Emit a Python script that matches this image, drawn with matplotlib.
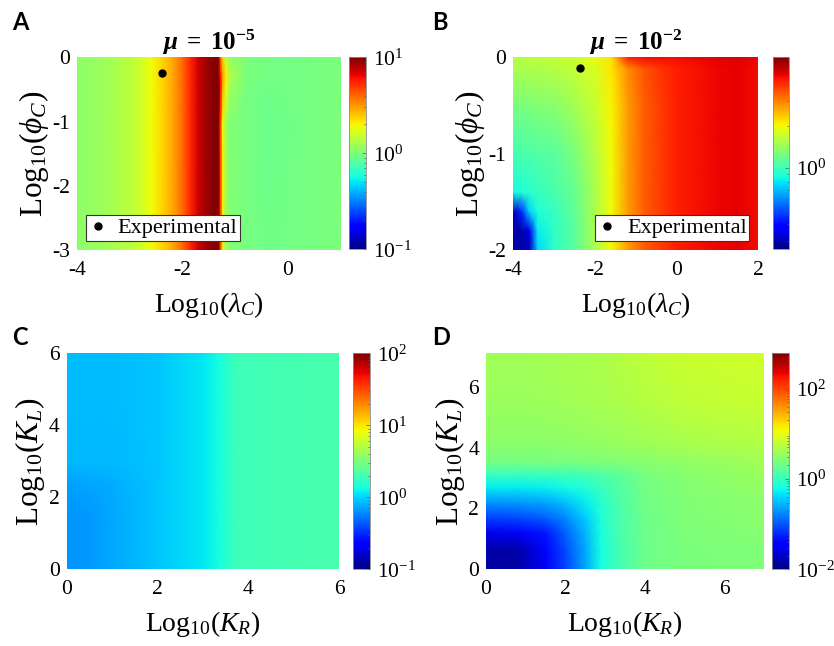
import numpy as np
import matplotlib
matplotlib.use("Agg")
import matplotlib.pyplot as plt
from matplotlib.colors import LogNorm
from matplotlib.ticker import LogLocator, FixedLocator, NullFormatter

plt.rcParams.update({
    "font.family": ["Liberation Serif", "DejaVu Serif"],
    "mathtext.fontset": "custom",
    "mathtext.rm": "Liberation Serif",
    "mathtext.it": "Liberation Serif:italic",
    "mathtext.bf": "Liberation Serif:bold",
    "mathtext.bfit": "Liberation Serif:italic:bold",
    "axes.unicode_minus": False,
})

# ---------------- Panel A: mu = 1e-5, log10(lambda_C) vs log10(phi_C) ----------------
a_lam = [-4.0, -3.5, -3.0, -2.8, -2.6, -2.4, -2.2, -2.0, -1.85, -1.7, -1.55,
         -1.42, -1.32, -1.28, -1.24, -1.18, -1.1, -0.8, -0.4, 0.0, 0.5, 1.0]
a_phi = [-3.0, -1.0, -0.5, -0.25, 0.0]
a_vals = [  # log10 of the plotted quantity
    [0.04, 0.08, 0.15, 0.20, 0.28, 0.36, 0.46, 0.60, 0.74, 0.86, 0.94,
     0.99, 1.00, 0.70, 0.30, 0.08, 0.02, -0.01, -0.03, -0.02, -0.01, 0.00],
    [0.04, 0.08, 0.15, 0.20, 0.28, 0.36, 0.46, 0.60, 0.74, 0.86, 0.94,
     0.99, 1.00, 0.70, 0.30, 0.08, 0.02, -0.01, -0.04, -0.03, -0.01, 0.00],
    [0.04, 0.08, 0.15, 0.20, 0.28, 0.36, 0.46, 0.60, 0.74, 0.86, 0.94,
     0.99, 1.00, 0.80, 0.45, 0.25, 0.08, -0.01, -0.03, -0.02, -0.01, 0.00],
    [0.04, 0.08, 0.15, 0.20, 0.28, 0.36, 0.46, 0.60, 0.74, 0.86, 0.94,
     0.99, 1.00, 0.75, 0.50, 0.32, 0.12, 0.00, -0.02, -0.02, -0.01, 0.00],
    [0.04, 0.08, 0.15, 0.20, 0.28, 0.36, 0.46, 0.60, 0.74, 0.86, 0.94,
     0.99, 0.98, 0.60, 0.35, 0.15, 0.05, 0.00, -0.02, -0.02, -0.01, 0.00],
]
a_exp = (-2.40, -0.24)

# ---------------- Panel B: mu = 1e-2 ----------------
b_lam = [-4.0, -3.8, -3.6, -3.4, -3.0, -2.5, -2.0, -1.6, -1.2, -0.8, -0.4, 0.0, 1.0, 1.5, 2.0]
b_phi = [-2.0, -1.8, -1.6, -1.4, -1.0, -0.5, -0.12, 0.0]
b_vals = [
    [-0.53, -0.53, -0.52, -0.12, -0.02, 0.05, 0.18, 0.30, 0.44, 0.53, 0.58, 0.62, 0.66, 0.67, 0.65],
    [-0.53, -0.53, -0.45, -0.09, -0.02, 0.05, 0.18, 0.30, 0.44, 0.53, 0.58, 0.62, 0.66, 0.67, 0.65],
    [-0.50, -0.36, -0.13, -0.05, -0.01, 0.06, 0.18, 0.30, 0.44, 0.53, 0.58, 0.62, 0.66, 0.67, 0.65],
    [-0.07, -0.05, -0.03, -0.01, 0.02, 0.07, 0.18, 0.30, 0.44, 0.53, 0.58, 0.62, 0.66, 0.67, 0.65],
    [0.01, 0.02, 0.03, 0.04, 0.05, 0.10, 0.20, 0.30, 0.44, 0.53, 0.58, 0.62, 0.66, 0.67, 0.65],
    [0.10, 0.10, 0.11, 0.12, 0.13, 0.17, 0.23, 0.31, 0.44, 0.53, 0.58, 0.62, 0.66, 0.67, 0.65],
    [0.18, 0.18, 0.19, 0.19, 0.20, 0.22, 0.26, 0.33, 0.46, 0.54, 0.59, 0.62, 0.66, 0.67, 0.65],
    [0.20, 0.20, 0.21, 0.21, 0.22, 0.24, 0.28, 0.34, 0.62, 0.65, 0.65, 0.65, 0.67, 0.68, 0.66],
]
b_exp = (-2.37, -0.11)

# ---------------- Panel C: log10(K_R) vs log10(K_L) ----------------
c_kr = [0.0, 0.5, 1.0, 2.0, 3.0, 3.35, 3.7, 4.5, 6.0]
c_kl = [0.0, 1.5, 2.4, 3.0, 6.0]
c_vals = [
    [-0.19, -0.17, -0.13, -0.05, 0.06, 0.13, 0.27, 0.30, 0.32],
    [-0.19, -0.17, -0.13, -0.05, 0.06, 0.13, 0.27, 0.30, 0.32],
    [-0.15, -0.13, -0.11, -0.05, 0.06, 0.13, 0.27, 0.30, 0.32],
    [-0.08, -0.08, -0.08, -0.04, 0.06, 0.13, 0.27, 0.30, 0.32],
    [-0.07, -0.07, -0.07, -0.04, 0.06, 0.13, 0.27, 0.30, 0.32],
]

# ---------------- Panel D ----------------
d_kr = [0.0, 0.8, 1.5, 2.0, 2.5, 2.9, 3.3, 4.0, 5.0, 7.0]
d_kl = [0.0, 0.6, 1.2, 1.7, 2.2, 2.7, 3.1, 3.5, 4.2, 5.5, 7.1]
d_vals = [
    [-1.85, -1.85, -1.50, -1.10, -0.60, -0.20, 0.05, 0.30, 0.38, 0.42],
    [-1.85, -1.82, -1.45, -1.05, -0.60, -0.20, 0.05, 0.30, 0.38, 0.42],
    [-1.55, -1.50, -1.30, -0.95, -0.55, -0.18, 0.06, 0.30, 0.40, 0.45],
    [-1.10, -1.05, -0.95, -0.75, -0.45, -0.15, 0.08, 0.31, 0.41, 0.48],
    [-0.70, -0.68, -0.62, -0.50, -0.30, -0.10, 0.10, 0.32, 0.42, 0.50],
    [-0.30, -0.30, -0.28, -0.22, -0.12, 0.00, 0.14, 0.34, 0.44, 0.53],
    [-0.02, -0.02, 0.00, 0.02, 0.06, 0.12, 0.20, 0.36, 0.46, 0.56],
    [0.35, 0.35, 0.36, 0.37, 0.38, 0.40, 0.42, 0.45, 0.52, 0.60],
    [0.50, 0.50, 0.50, 0.52, 0.53, 0.55, 0.56, 0.60, 0.66, 0.72],
    [0.56, 0.57, 0.58, 0.60, 0.62, 0.64, 0.66, 0.72, 0.78, 0.82],
    [0.60, 0.60, 0.62, 0.64, 0.66, 0.68, 0.72, 0.78, 0.84, 0.86],
]

W, H = 834, 646
fig = plt.figure(figsize=(W / 100, H / 100), dpi=100)

TICK_FS = 15.5
XLABEL_FS = 20
YLABEL_FS = 22.5
TITLE_FS = 18
LEGEND_FS = 16


def box(l, r, t, b):
    return [l / W, 1 - b / H, (r - l) / W, (b - t) / H]


def heat(ax_px, cb_px, xs, ys, vals, vmin, vmax, xlim, ylim, xticks, yticks,
         xlabel, ylabel, cticks):
    ax = fig.add_axes(box(*ax_px))
    cax = fig.add_axes(box(*cb_px))
    X, Y = np.meshgrid(xs, ys)
    C = 10.0 ** np.asarray(vals, dtype=float)
    norm = LogNorm(vmin=vmin, vmax=vmax)
    mesh = ax.pcolormesh(X, Y, C, shading="gouraud", cmap="jet", norm=norm)
    ax.set_xlim(*xlim)
    ax.set_ylim(*ylim)
    ax.set_xticks(xticks)
    ax.set_yticks(yticks)
    ax.set_xticklabels([f"{t:g}" for t in xticks])
    ax.set_yticklabels([f"{t:g}" for t in yticks])
    ax.tick_params(length=0, labelsize=TICK_FS)
    ax.tick_params(axis="x", pad=8)
    ax.tick_params(axis="y", pad=5)
    for s in ax.spines.values():
        s.set_visible(False)
    ax.set_xlabel(xlabel, fontsize=XLABEL_FS, labelpad=7)
    ax.set_ylabel(ylabel, fontsize=YLABEL_FS, labelpad=1)

    cb = fig.colorbar(mesh, cax=cax)
    cb.outline.set_edgecolor("0.55")
    cb.outline.set_linewidth(0.6)
    cax.yaxis.set_major_locator(FixedLocator(cticks))
    cax.yaxis.set_minor_locator(LogLocator(base=10, subs=np.arange(2, 10)))
    cax.yaxis.set_minor_formatter(NullFormatter())
    cax.tick_params(which="both", direction="in", color="0.35", width=0.5,
                    labelsize=TICK_FS, pad=5)
    cax.tick_params(which="major", length=3)
    cax.tick_params(which="minor", length=1.5)
    return ax


def add_legend(ax, loc):
    leg = ax.legend(loc=loc, frameon=True, fancybox=False, edgecolor="0.2",
                    framealpha=1, fontsize=LEGEND_FS, handlelength=0.8,
                    handletextpad=0.5, borderpad=0.12, borderaxespad=0.4)
    leg.get_frame().set_linewidth(0.8)


axA = heat((77.3, 340.7, 57.3, 250.0), (349.3, 365.7, 57.3, 249.3),
           a_lam, a_phi, a_vals, 0.1, 10.0, (-4, 1), (-3, 0),
           [-4, -2, 0], [-3, -2, -1, 0],
           r"$\mathrm{Log}_{10}(\lambda_{C})$", r"$\mathrm{Log}_{10}(\phi_{C})$",
           [0.1, 1, 10])
axA.plot(*a_exp, "o", color="k", ms=5, label="Experimental")
axA.set_title(r"$\mathbfit{\mu}\ \mathbf{=}\ \mathbf{10^{-5}}$", fontsize=TITLE_FS, pad=1)
add_legend(axA, "lower left")

axB = heat((513.3, 758.3, 57.3, 250.0), (772.7, 789.0, 57.3, 249.3),
           b_lam, b_phi, b_vals, 10 ** -0.58, 10 ** 0.79, (-4, 2), (-2, 0),
           [-4, -2, 0, 2], [-2, -1, 0],
           r"$\mathrm{Log}_{10}(\lambda_{C})$", r"$\mathrm{Log}_{10}(\phi_{C})$",
           [1])
axB.plot(*b_exp, "o", color="k", ms=5, label="Experimental")
axB.set_title(r"$\mathbfit{\mu}\ \mathbf{=}\ \mathbf{10^{-2}}$", fontsize=TITLE_FS, pad=1)
add_legend(axB, "lower right")

axC = heat((66.7, 339.3, 353.3, 569.3), (353.3, 370.0, 353.3, 569.3),
           c_kr, c_kl, c_vals, 0.1, 100.0, (0, 6), (0, 6),
           [0, 2, 4, 6], [0, 2, 4, 6],
           r"$\mathrm{Log}_{10}(K_{R})$", r"$\mathrm{Log}_{10}(K_{L})$",
           [0.1, 1, 10, 100])

axD = heat((486.0, 764.0, 353.3, 569.3), (771.7, 788.7, 353.3, 569.3),
           d_kr, d_kl, d_vals, 0.01, 10 ** 2.78, (0, 7), (0, 7.1),
           [0, 2, 4, 6], [0, 2, 4, 6],
           r"$\mathrm{Log}_{10}(K_{R})$", r"$\mathrm{Log}_{10}(K_{L})$",
           [0.01, 1, 100])

for letter, (px, py) in zip("ABCD", [(12, 11), (432, 11), (12, 326), (432, 326)]):
    fig.text(px / W, 1 - py / H, letter, fontsize=17, fontweight="bold",
             family=["Lato", "DejaVu Sans"], ha="left", va="top")

fig.savefig("out.png", dpi=100)
